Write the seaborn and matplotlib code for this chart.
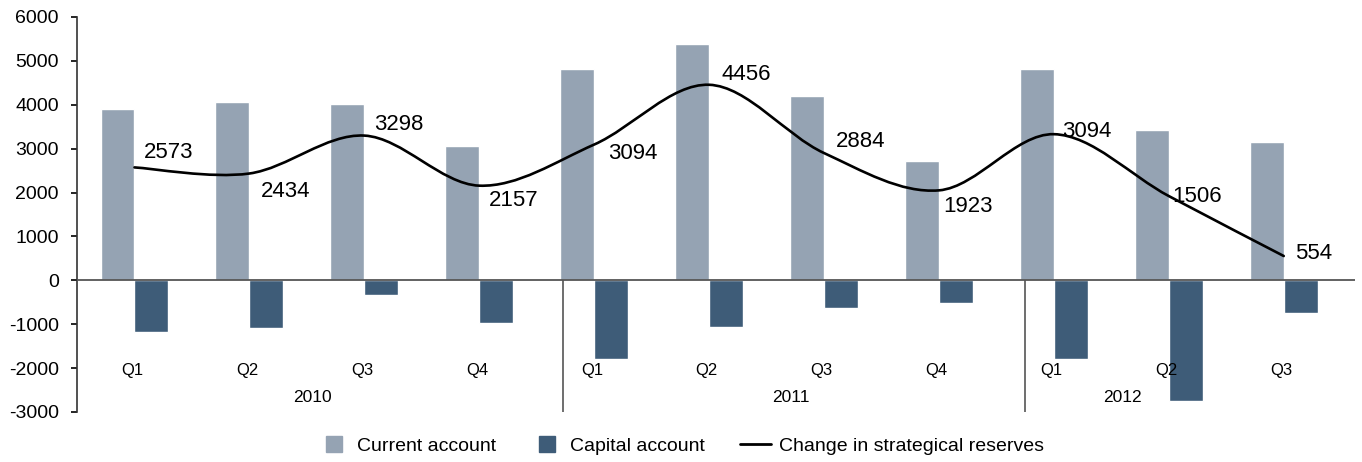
import numpy as np
import pandas as pd
import matplotlib
matplotlib.use('Agg')
import matplotlib.pyplot as plt
import seaborn as sns
from matplotlib.path import Path
from matplotlib.patches import PathPatch
from matplotlib.lines import Line2D

# Datos
quarters = ['Q1', 'Q2', 'Q3', 'Q4', 'Q1', 'Q2', 'Q3', 'Q4', 'Q1', 'Q2', 'Q3']
years = ['2010'] * 4 + ['2011'] * 4 + ['2012'] * 3
current_account = [3910, 4070, 4020, 3070, 4820, 5390, 4210, 2730, 4820, 3430, 3160]
capital_account = [-1175, -1085, -335, -970, -1790, -1060, -630, -515, -1790, -2745, -740]
reserves = [2573, 2434, 3298, 2157, 3094, 4456, 2900, 2050, 3330, 1920, 554]
reserve_labels = ['2573', '2434', '3298', '2157', '3094', '4456', '2884', '1923', '3094', '1506', '554']

# desplazamiento de las etiquetas (pixeles)
label_offsets = [(9, 15), (11, -18), (10, 11), (10, -15), (14, -9), (12, 10),
                 (12, 12), (4, -16), (8, 3), (3, 0), (11, 3)]

CUR_COLOR = '#95a3b3'
CAP_COLOR = '#3e5c78'

cats = [f'{y} {q}' for y, q in zip(years, quarters)]
df = pd.DataFrame({
    'cat': cats * 2,
    'serie': ['Current account'] * len(cats) + ['Capital account'] * len(cats),
    'valor': current_account + capital_account,
})

sns.set_style('white')
plt.rcParams['font.family'] = ['Liberation Sans', 'DejaVu Sans']
plt.rcParams['axes.unicode_minus'] = False
plt.rcParams['text.color'] = 'black'
plt.rcParams['ytick.color'] = 'black'

fig = plt.figure(figsize=(13.62, 4.62), dpi=100)
ax = fig.add_axes([77 / 1362, 1 - 412 / 462, (1355 - 77) / 1362, (412 - 17) / 462])

sns.barplot(data=df, x='cat', y='valor', hue='serie', order=cats,
            hue_order=['Current account', 'Capital account'],
            palette={'Current account': CUR_COLOR, 'Capital account': CAP_COLOR},
            width=0.59, legend=False, ax=ax, saturation=1)

# Linea suavizada (estilo Excel) con curvas de Bezier
xs = np.arange(len(reserves), dtype=float)
pts = np.column_stack([xs, np.array(reserves, dtype=float)])
ext = np.vstack([pts[0], pts, pts[-1]])
verts = [pts[0]]
codes = [Path.MOVETO]
for i in range(len(pts) - 1):
    p0, p1, p2, p3 = ext[i], ext[i + 1], ext[i + 2], ext[i + 3]
    verts += [p1 + (p2 - p0) / 6, p2 - (p3 - p1) / 6, p2]
    codes += [Path.CURVE4] * 3
ax.add_patch(PathPatch(Path(verts, codes), fill=False, edgecolor='black',
                       lw=1.9, zorder=5, capstyle='round', joinstyle='round'))

for i, (v, lab) in enumerate(zip(reserves, reserve_labels)):
    ax.annotate(lab, (i, v), xytext=label_offsets[i], textcoords='offset pixels',
                ha='left', va='center', fontsize=16, color='black', zorder=6)

ax.set_xlim(-0.5, 10.62)
ax.set_ylim(-3000, 6000)
ax.set_yticks(range(-3000, 6001, 1000))
ax.tick_params(axis='y', labelsize=14, length=4, width=1.2, pad=9, direction='out',
               left=True, colors='black')
ax.set_xticks([])
ax.set_xlabel('')
ax.set_ylabel('')

for s in ['top', 'right', 'bottom']:
    ax.spines[s].set_visible(False)
ax.spines['left'].set_color('#333333')
ax.spines['left'].set_linewidth(1.2)
ax.axhline(0, color='#555555', lw=1.3, zorder=3)

# etiquetas de categorias multinivel
for i, q in enumerate(quarters):
    ax.text(i - 0.02, -2045, q, ha='center', va='center', fontsize=12, color='black')
year_pos = {'2010': 1.55, '2011': 5.71, '2012': 8.6}
for y, xp in year_pos.items():
    ax.text(xp, -2660, y, ha='center', va='center', fontsize=12.5, color='black')
ax.vlines([3.73, 7.75], -3000, 0, color='#555555', lw=1.2)

handles = [
    Line2D([], [], marker='s', linestyle='none', markersize=11.5, color=CUR_COLOR),
    Line2D([], [], marker='s', linestyle='none', markersize=11.5, color=CAP_COLOR),
    Line2D([], [], color='black', lw=2),
]
fig.legend(handles, ['Current account', 'Capital account', 'Change in strategical reserves'],
           loc='center', bbox_to_anchor=(0.5, 1 - 446 / 462), ncol=3, frameon=False,
           fontsize=14, handlelength=1.6, handletextpad=0.4, columnspacing=1.8)

fig.savefig('out.png', dpi=100)
